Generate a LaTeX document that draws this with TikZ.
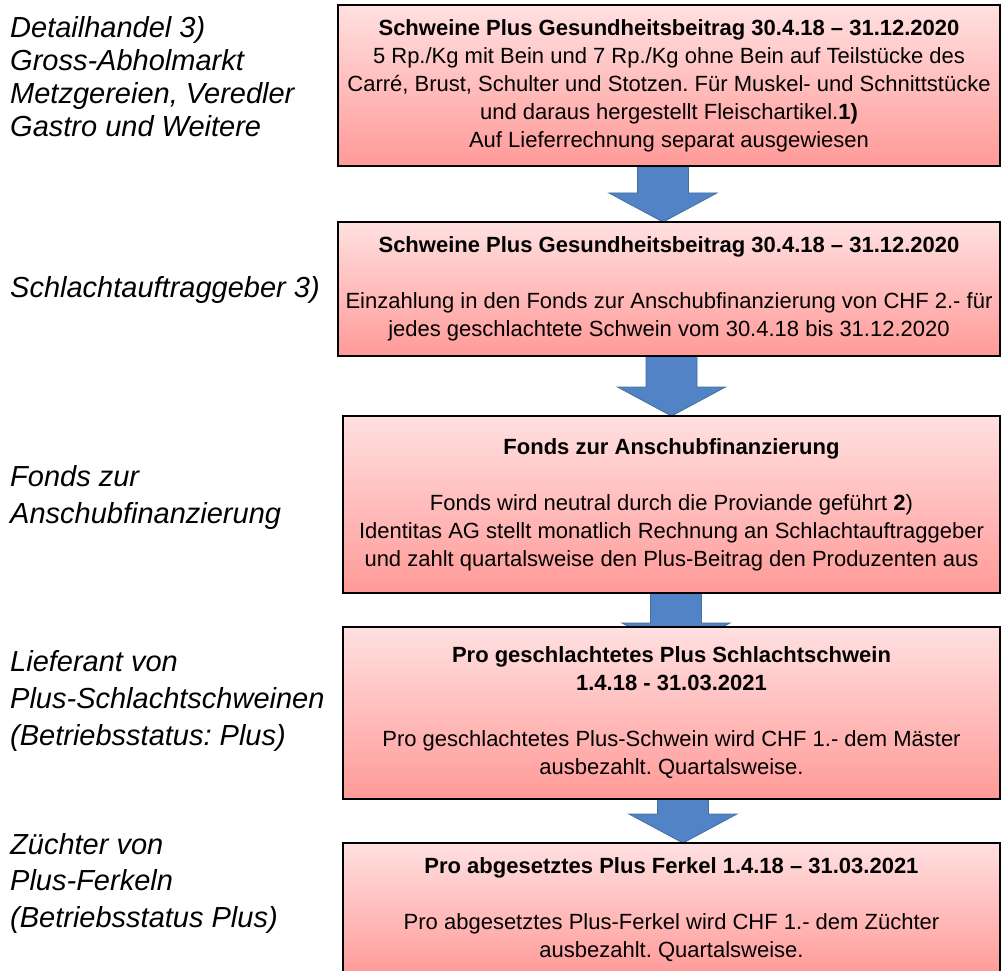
\documentclass[tikz,border=0pt]{standalone}
\usepackage{fontspec}
\setmainfont{Liberation Sans}
\usepackage{xcolor}
\usepackage{tikz}
\usetikzlibrary{positioning,backgrounds,calc}
\definecolor{boxtop}{HTML}{FFE0E0}
\definecolor{boxbot}{HTML}{FF9A98}
\definecolor{arrblue}{HTML}{5183C6}
\definecolor{arrline}{HTML}{41719C}
\frenchspacing

% fat block arrow from one anchor down to another
\newcommand{\fatarrow}[2]{%
  \path[fatarr] let \p1=(#1), \p2=(#2) in
    (\x1-25.5pt,\y1) -- (\x1+25.5pt,\y1) -- (\x1+25.5pt,\y2+29pt) -- (\x1+54pt,\y2+29pt)
    -- (\x1,\y2) -- (\x1-54pt,\y2+29pt) -- (\x1-25.5pt,\y2+29pt) -- cycle;}

\begin{document}
\begin{tikzpicture}[x=1pt,y=-1pt,
  stage/.style={draw=black,line width=2.5pt,top color=boxtop,bottom color=boxbot,
                anchor=north west,align=center,inner sep=0pt,outer sep=0pt,
                font=\fontsize{22}{28}\selectfont},
  role/.style={anchor=west,align=left,inner sep=0pt,
               font=\fontsize{29}{33}\selectfont\itshape},
  fatarr/.style={fill=arrblue,draw=arrline,line width=0.8pt},
]
\useasboundingbox (0,0) rectangle (1002,971);

% RIGHT: the chain of contributions, top to bottom
\node[stage,minimum width=662pt,minimum height=161pt] (handel) at (338,5)
  {\textbf{Schweine Plus Gesundheitsbeitrag 30.4.18 – 31.12.2020}\\
   5 Rp./Kg mit Bein und 7 Rp./Kg ohne Bein auf Teilstücke des\\
   Carré, Brust, Schulter und Stotzen. Für Muskel- und Schnittstücke\\
   und daraus hergestellt Fleischartikel.\textbf{1)}\\
   Auf Lieferrechnung separat ausgewiesen};
\node[stage,minimum width=662pt,minimum height=134pt] (auftrag) at (338,222)
  {\textbf{Schweine Plus Gesundheitsbeitrag 30.4.18 – 31.12.2020}\\[28pt]
   Einzahlung in den Fonds zur Anschubfinanzierung von CHF 2.- für\\
   jedes geschlachtete Schwein vom 30.4.18 bis 31.12.2020};
\node[stage,minimum width=657pt,minimum height=177pt] (fonds) at (343,416)
  {\textbf{Fonds zur Anschubfinanzierung}\\[28pt]
   Fonds wird neutral durch die Proviande geführt \textbf{2})\\
   Identitas AG stellt monatlich Rechnung an Schlachtauftraggeber\\
   und zahlt quartalsweise den Plus-Beitrag den Produzenten aus};
\node[stage,minimum width=657pt,minimum height=172pt] (mast) at (343,627)
  {\textbf{Pro geschlachtetes Plus Schlachtschwein}\\
   \textbf{1.4.18 - 31.03.2021}\\[28pt]
   Pro geschlachtetes Plus-Schwein wird CHF 1.- dem Mäster\\
   ausbezahlt. Quartalsweise.};
\node[stage,minimum width=657pt,minimum height=134pt] (zucht) at (343,843)
  {\textbf{Pro abgesetztes Plus Ferkel 1.4.18 – 31.03.2021}\\[28pt]
   Pro abgesetztes Plus-Ferkel wird CHF 1.- dem Züchter\\
   ausbezahlt. Quartalsweise.};

% LEFT: who pays / who receives
\node[role] (handelLbl) at (10,77)
  {Detailhandel 3)\\Gross-Abholmarkt\\Metzgereien, Veredler\\Gastro und Weitere};
\node[role] (auftragLbl) at (10,290) {Schlachtauftraggeber 3)};
\node[role,font=\fontsize{29}{37}\selectfont\itshape] (fondsLbl) at (10,497)
  {Fonds zur\\Anschubfinanzierung};
\node[role,font=\fontsize{29}{37}\selectfont\itshape] (mastLbl) at (10,701)
  {Lieferant von\\Plus-Schlachtschweinen\\(Betriebsstatus: Plus)};
\node[role,font=\fontsize{29}{36.5}\selectfont\itshape] (zuchtLbl) at (10,883)
  {Züchter von\\Plus-Ferkeln\\(Betriebsstatus Plus)};

% block arrows behind the boxes
\begin{scope}[on background layer]
  \fatarrow{[xshift=-6pt]handel.south}{[xshift=-6pt]auftrag.north}
  \fatarrow{[xshift=2.5pt]auftrag.south}{[xshift=2.5pt]fonds.north}
  \fatarrow{[xshift=4.5pt]fonds.south}{[xshift=4.5pt,yshift=-25pt]mast.north}
  \fatarrow{[xshift=11.5pt]mast.south}{[xshift=11.5pt]zucht.north}
\end{scope}
\end{tikzpicture}
\end{document}
